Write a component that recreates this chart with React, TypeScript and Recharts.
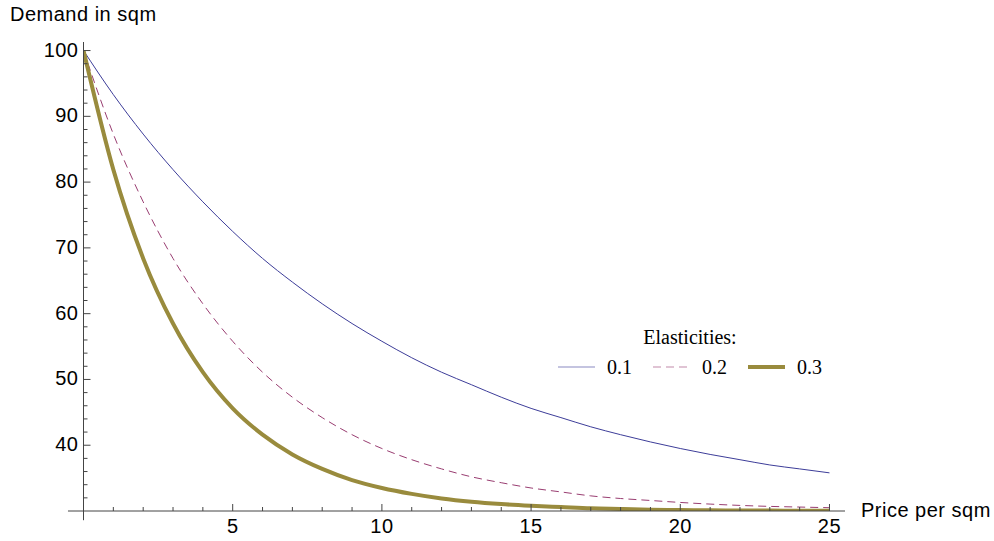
import React from 'react';
import { LineChart, Line, XAxis, YAxis, ReferenceLine } from 'recharts';

const prices = [0, 1, 2, 3, 4, 5, 6, 7, 8, 9, 10, 11, 12, 13, 14, 15, 16, 17, 18, 19, 20, 21, 22, 23, 24, 25];
const demand01 = [100, 93.3, 87.3, 81.9, 77, 72.5, 68.4, 64.8, 61.5, 58.5, 55.8, 53.3, 51.1, 49.2, 47.3, 45.6, 44.2, 42.8, 41.6, 40.5, 39.5, 38.6, 37.8, 37.0, 36.4, 35.8];
const demand02 = [100, 87.3, 77, 68.4, 61.5, 55.8, 51.1, 47.3, 44.2, 41.6, 39.5, 37.8, 36.4, 35.2, 34.3, 33.5, 32.9, 32.3, 31.9, 31.6, 31.3, 31.05, 30.85, 30.7, 30.6, 30.5];
const demand03 = [100, 81.9, 68.4, 58.5, 51.1, 45.6, 41.6, 38.6, 36.4, 34.7, 33.5, 32.6, 31.9, 31.4, 31.05, 30.8, 30.6, 30.4, 30.3, 30.2, 30.15, 30.1, 30.08, 30.06, 30.05, 30.04];
const xTicks = [1, 2, 3, 4, 5, 6, 7, 8, 9, 10, 11, 12, 13, 14, 15, 16, 17, 18, 19, 20, 21, 22, 23, 24, 25];
const yTicks = [32, 34, 36, 38, 40, 42, 44, 46, 48, 50, 52, 54, 56, 58, 60, 62, 64, 66, 68, 70, 72, 74, 76, 78, 80, 82, 84, 86, 88, 90, 92, 94, 96, 98, 100];
const seriesNames = ['0.1', '0.2', '0.3'];

const data = prices.map((p, i) => ({ price: p, e01: demand01[i], e02: demand02[i], e03: demand03[i] }));

const AXIS = '#444';
const SANS = '"Liberation Sans", Arial, sans-serif';
const SERIF = '"Liberation Serif", "Times New Roman", serif';
const COLORS = ['#3d3d99', '#993d71', '#998b3d'];

const XTick = (props: any) => {
  const { x, y, payload } = props;
  const major = payload.value % 5 === 0;
  return (
    <g>
      <line x1={x} y1={y} x2={x} y2={y - (major ? 7 : 4)} stroke={AXIS} strokeWidth={1} />
      {major && (
        <text x={x} y={y + 22} textAnchor="middle" fontFamily={SANS} fontSize={20} letterSpacing={0.5} fill="#000">
          {payload.value}
        </text>
      )}
    </g>
  );
};

const YTick = (props: any) => {
  const { x, y, payload } = props;
  const major = payload.value % 10 === 0;
  return (
    <g>
      <line x1={x} y1={y} x2={x + (major ? 7 : 4)} y2={y} stroke={AXIS} strokeWidth={1} />
      {major && (
        <text x={x - 5} y={y + 6} textAnchor="end" fontFamily={SANS} fontSize={20} letterSpacing={0.5} fill="#000">
          {payload.value}
        </text>
      )}
    </g>
  );
};

// legend drawn as an overlay so it doesn't steal plot space
const LegendBox = () => (
  <div style={{ position: 'absolute', left: 540, top: 327, width: 300, fontFamily: SERIF, fontSize: 20, color: '#000' }}>
    <div style={{ textAlign: 'center', lineHeight: '20px', height: 20 }}>Elasticities:</div>
    <div style={{ position: 'absolute', left: 18, top: 29.5, display: 'flex', alignItems: 'center', lineHeight: '20px', height: 20, whiteSpace: 'nowrap' }}>
      {seriesNames.map((name, i) => (
        <div key={name} style={{ display: 'flex', alignItems: 'center', marginRight: i < 2 ? 21 : 0 }}>
          <svg width={37} height={10} style={{ marginRight: 12 }}>
            <line
              x1={0}
              y1={5}
              x2={37}
              y2={5}
              stroke={COLORS[i]}
              strokeOpacity={i === 2 ? 1 : 0.6}
              strokeWidth={i === 2 ? 4 : 1.2}
              strokeDasharray={i === 1 ? '8 5' : undefined}
            />
          </svg>
          <span>{name}</span>
        </div>
      ))}
    </div>
  </div>
);

export default function App() {
  return (
    <div style={{ position: 'absolute', left: 0, top: 0, width: 994, height: 541, background: '#fff' }}>
      <LineChart width={994} height={541} data={data} margin={{ top: 42, right: 149, bottom: 0, left: 0 }}>
        <XAxis
          dataKey="price"
          type="number"
          domain={[0, 25.52]}
          allowDataOverflow
          ticks={xTicks}
          interval={0}
          height={30}
          stroke={AXIS}
          tickSize={0}
          tickMargin={0}
          tickLine={false}
          tick={<XTick />}
          label={{
            content: (p: any) => (
              <text x={p.viewBox.x + p.viewBox.width + 16} y={p.viewBox.y + 6} fontFamily={SANS} fontSize={20} letterSpacing={0.5} fill="#000">
                Price per sqm
              </text>
            ),
          }}
        />
        <YAxis
          type="number"
          domain={[30, 101.3]}
          allowDataOverflow
          ticks={yTicks}
          interval={0}
          width={83.5}
          stroke={AXIS}
          tickSize={0}
          tickMargin={0}
          tickLine={false}
          tick={<YTick />}
          label={{
            content: (p: any) => (
              <text x={10} y={p.viewBox.y - 21} fontFamily={SANS} fontSize={20} letterSpacing={0.5} fill="#000">
                Demand in sqm
              </text>
            ),
          }}
        />
        <ReferenceLine segment={[{ x: -0.52, y: 30 }, { x: 0, y: 30 }]} stroke={AXIS} ifOverflow="visible" />
        <ReferenceLine segment={[{ x: 0, y: 28.6 }, { x: 0, y: 30 }]} stroke={AXIS} ifOverflow="visible" />
        <Line type="monotone" dataKey="e01" stroke={COLORS[0]} strokeWidth={1} dot={false} isAnimationActive={false} />
        <Line type="monotone" dataKey="e02" stroke={COLORS[1]} strokeWidth={1} strokeDasharray="8 5" dot={false} isAnimationActive={false} />
        <Line type="monotone" dataKey="e03" stroke={COLORS[2]} strokeWidth={4} dot={false} isAnimationActive={false} />
      </LineChart>
      <LegendBox />
    </div>
  );
}
